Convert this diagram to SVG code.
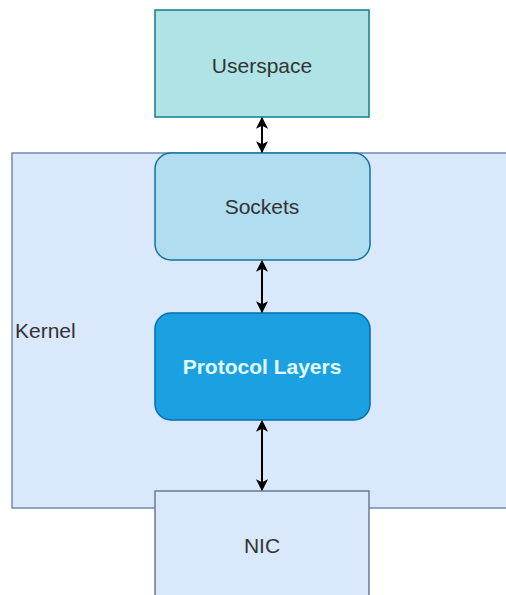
<svg xmlns="http://www.w3.org/2000/svg" width="506" height="595" viewBox="0 0 506 595">
  <defs>
    <marker id="ah" viewBox="0 0 10 10" refX="9" refY="5" markerWidth="12" markerHeight="12" markerUnits="userSpaceOnUse" orient="auto-start-reverse">
      <path d="M0,0 L10,5 L0,10 L2.5,5 Z" fill="#000"/>
    </marker>
    <style>
      text { font-family: "Liberation Sans", Arial, sans-serif; font-size: 21px; }
      .lbl { text-anchor: middle; fill: #333333; }
      .conn { stroke: #000; stroke-width: 2; fill: none; marker-start: url(#ah); marker-end: url(#ah); }
    </style>
  </defs>
  <rect width="506" height="595" fill="#ffffff"/>
  <g id="kernel">
    <rect x="12" y="153" width="510" height="355" fill="#dae8fc" stroke="#7089b0" stroke-width="1.5"/>
    <text x="15" y="338" fill="#333333">Kernel</text>
  </g>
  <g id="userspace">
    <rect x="155" y="10" width="214" height="107" fill="#b0e3e6" stroke="#0e8088" stroke-width="1.5"/>
    <text class="lbl" x="262" y="73">Userspace</text>
  </g>
  <g id="sockets">
    <rect x="155" y="153" width="215" height="107" rx="16" ry="16" fill="#b1ddf0" stroke="#10739e" stroke-width="1.5"/>
    <text class="lbl" x="262" y="214">Sockets</text>
  </g>
  <g id="protocol">
    <rect x="155" y="313" width="215" height="107" rx="16" ry="16" fill="#1ba1e2" stroke="#006eaf" stroke-width="1.5"/>
    <text x="262" y="374" text-anchor="middle" font-weight="bold" fill="#e0fbff">Protocol Layers</text>
  </g>
  <g id="nic">
    <rect x="155" y="491" width="214" height="120" fill="#dae8fc" stroke="#6c7a90" stroke-width="1.5"/>
    <text class="lbl" x="262" y="553">NIC</text>
  </g>
  <g id="connectors">
    <line class="conn" x1="262" y1="118" x2="262" y2="152"/>
    <line class="conn" x1="262" y1="261" x2="262" y2="312"/>
    <line class="conn" x1="262" y1="421" x2="262" y2="490"/>
  </g>
</svg>
